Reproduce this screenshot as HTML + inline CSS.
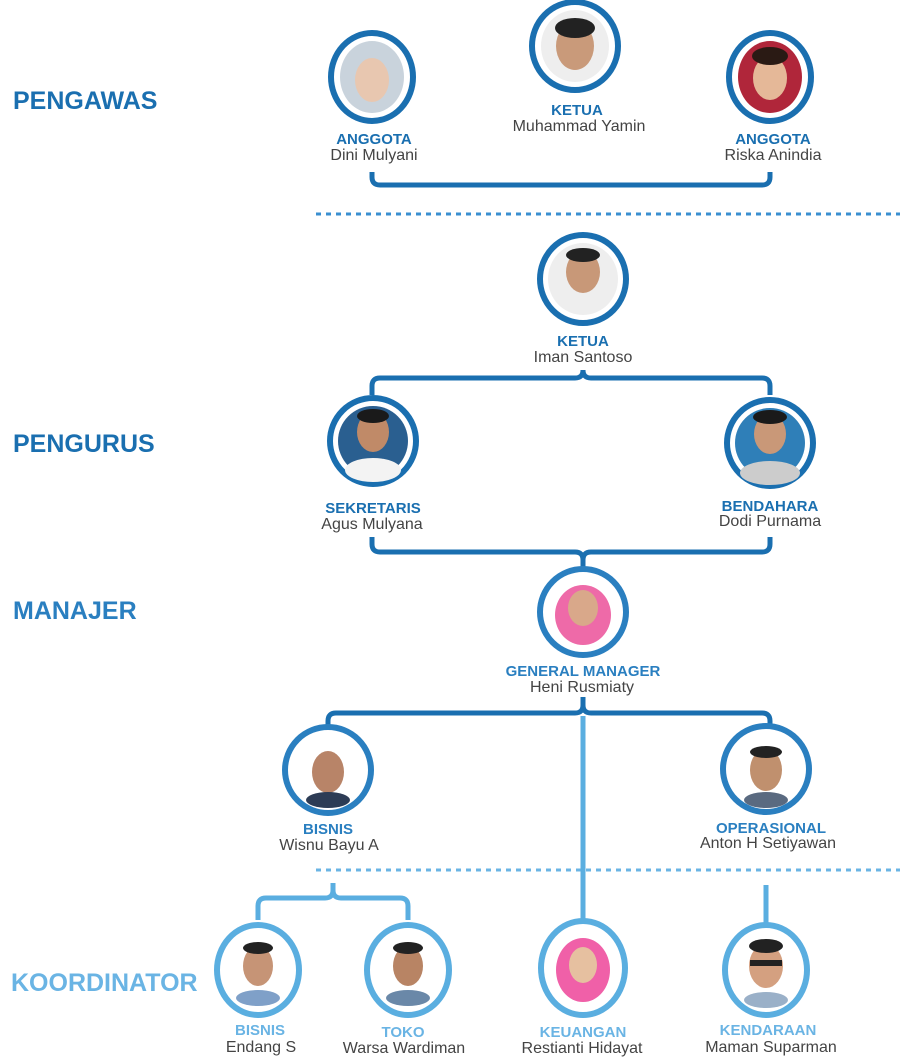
<!DOCTYPE html>
<html><head><meta charset="utf-8"><style>
html,body{margin:0;padding:0;background:#fff;}
svg{display:block}
.t{font-family:"Liberation Sans",sans-serif;font-weight:bold;text-anchor:middle;font-size:15px}
.n{font-family:"Liberation Sans",sans-serif;text-anchor:middle;font-size:16px;fill:#444}
.side{font-family:"Liberation Sans",sans-serif;font-weight:bold;font-size:25px}
</style></head><body>
<svg width="900" height="1059" viewBox="0 0 900 1059" xmlns="http://www.w3.org/2000/svg">
<text class="side" x="13" y="109" fill="#1a6fb0">PENGAWAS</text>
<text class="side" x="13" y="452" fill="#1a6fb0">PENGURUS</text>
<text class="side" x="13" y="619" fill="#2a7fc0">MANAJER</text>
<text class="side" x="11" y="991" fill="#6ab4e4">KOORDINATOR</text>

<line x1="316" y1="214" x2="900" y2="214" stroke="#3a8fd0" stroke-width="3" stroke-dasharray="5,5"/>
<line x1="316" y1="870" x2="900" y2="870" stroke="#6ab4e4" stroke-width="3" stroke-dasharray="5,5"/>

<g fill="none" stroke="#1a6fb0" stroke-width="5">
<path d="M372 172 V177 Q372 185 380 185 H762 Q770 185 770 177 V172"/>
<path d="M372 395 V386 Q372 378 380 378 H575 Q583 378 583 370 Q583 378 591 378 H762 Q770 378 770 386 V395"/>
<path d="M372 537 V544 Q372 552 380 552 H575 Q583 552 583 560 V568 M583 560 Q583 552 591 552 H762 Q770 552 770 544 V537"/>
<path d="M328 728 V721 Q328 713 336 713 H575 Q583 713 583 705 V697 M583 705 Q583 713 591 713 H762 Q770 713 770 721 V728"/>
</g>
<g fill="none" stroke="#5aaee0" stroke-width="5">
<line x1="583" y1="716" x2="583" y2="920"/>
<path d="M333 883 V890 Q333 898 325 898 H266 Q258 898 258 906 V920 M333 890 Q333 898 341 898 H400 Q408 898 408 906 V920"/>
<line x1="766" y1="885" x2="766" y2="928"/>
</g>

<g stroke-width="6">
<g stroke="#1a6fb0">
<ellipse cx="372" cy="77" rx="41" ry="44" fill="#fff"/>
<ellipse cx="575" cy="46" rx="43" ry="44" fill="#fff"/>
<ellipse cx="770" cy="77" rx="41" ry="44" fill="#fff"/>
<ellipse cx="583" cy="279" rx="43" ry="44" fill="#fff"/>
<ellipse cx="373" cy="441" rx="43" ry="43" fill="#fff"/>
<ellipse cx="770" cy="443" rx="43" ry="43" fill="#fff"/>
</g>
<g stroke="#2a7fc0">
<ellipse cx="583" cy="612" rx="43" ry="43" fill="#fff"/>
<ellipse cx="328" cy="770" rx="43" ry="43" fill="#fff"/>
<ellipse cx="766" cy="769" rx="43" ry="43" fill="#fff"/>
</g>
<g stroke="#5aaee0">
<ellipse cx="258" cy="970" rx="41" ry="45" fill="#fff"/>
<ellipse cx="408" cy="970" rx="41" ry="45" fill="#fff"/>
<ellipse cx="583" cy="968" rx="42" ry="47" fill="#fff"/>
<ellipse cx="766" cy="970" rx="41" ry="45" fill="#fff"/>
</g>
</g>
<g>
<ellipse cx="372" cy="77" rx="32" ry="36" fill="#c9d3dc"/><ellipse cx="372" cy="80" rx="17" ry="22" fill="#e8c7b0"/>
<ellipse cx="575" cy="46" rx="34" ry="36" fill="#eee"/><ellipse cx="575" cy="46" rx="19" ry="24" fill="#c99a7a"/><ellipse cx="575" cy="28" rx="20" ry="10" fill="#222"/>
<ellipse cx="770" cy="77" rx="32" ry="36" fill="#b0263a"/><ellipse cx="770" cy="78" rx="17" ry="22" fill="#e5b898"/><ellipse cx="770" cy="56" rx="18" ry="9" fill="#2a1a14"/>
<ellipse cx="583" cy="279" rx="35" ry="36" fill="#eee"/><ellipse cx="583" cy="272" rx="17" ry="21" fill="#c89878"/><ellipse cx="583" cy="255" rx="17" ry="7" fill="#222"/>
<ellipse cx="373" cy="441" rx="35" ry="35" fill="#2a5f90"/><ellipse cx="373" cy="470" rx="28" ry="12" fill="#f3f3f3"/><ellipse cx="373" cy="432" rx="16" ry="20" fill="#c08a68"/><ellipse cx="373" cy="416" rx="16" ry="7" fill="#1a1a1a"/>
<ellipse cx="770" cy="443" rx="35" ry="35" fill="#2f7fb8"/><ellipse cx="770" cy="473" rx="30" ry="12" fill="#ccc"/><ellipse cx="770" cy="434" rx="16" ry="20" fill="#c99878"/><ellipse cx="770" cy="417" rx="17" ry="7" fill="#1a1a1a"/>
<ellipse cx="583" cy="615" rx="28" ry="30" fill="#ee6aa8"/><ellipse cx="583" cy="608" rx="15" ry="18" fill="#d9a88a"/>
<ellipse cx="328" cy="772" rx="16" ry="21" fill="#b88468"/><ellipse cx="328" cy="800" rx="22" ry="8" fill="#2d3c55"/>
<ellipse cx="766" cy="770" rx="16" ry="21" fill="#c0906e"/><ellipse cx="766" cy="752" rx="16" ry="6" fill="#222"/><ellipse cx="766" cy="800" rx="22" ry="8" fill="#5a6a80"/>
<ellipse cx="258" cy="966" rx="15" ry="20" fill="#c69476"/><ellipse cx="258" cy="948" rx="15" ry="6" fill="#222"/><ellipse cx="258" cy="998" rx="22" ry="8" fill="#7fa0c8"/>
<ellipse cx="408" cy="966" rx="15" ry="20" fill="#b88464"/><ellipse cx="408" cy="948" rx="15" ry="6" fill="#222"/><ellipse cx="408" cy="998" rx="22" ry="8" fill="#6a88a8"/>
<ellipse cx="583" cy="970" rx="27" ry="32" fill="#f060a8"/><ellipse cx="583" cy="965" rx="14" ry="18" fill="#e6c0a0"/>
<ellipse cx="766" cy="966" rx="17" ry="22" fill="#d4a080"/><ellipse cx="766" cy="946" rx="17" ry="7" fill="#222"/><rect x="750" y="960" width="32" height="6" fill="#222"/><ellipse cx="766" cy="1000" rx="22" ry="8" fill="#9ab0c8"/>
</g>

<g class="t" fill="#1a6fb0">
<text x="374" y="144">ANGGOTA</text>
<text x="577" y="115">KETUA</text>
<text x="773" y="144">ANGGOTA</text>
<text x="583" y="346">KETUA</text>
<text x="373" y="513">SEKRETARIS</text>
<text x="770" y="511">BENDAHARA</text>
</g>
<g class="t" fill="#2a7fc0">
<text x="583" y="676">GENERAL MANAGER</text>
<text x="328" y="834">BISNIS</text>
<text x="771" y="833">OPERASIONAL</text>
</g>
<g class="t" fill="#6ab4e4">
<text x="260" y="1035">BISNIS</text>
<text x="403" y="1037">TOKO</text>
<text x="583" y="1037">KEUANGAN</text>
<text x="768" y="1035">KENDARAAN</text>
</g>
<g class="n">
<text x="374" y="160">Dini Mulyani</text>
<text x="579" y="131">Muhammad Yamin</text>
<text x="773" y="160">Riska Anindia</text>
<text x="583" y="362">Iman Santoso</text>
<text x="372" y="529">Agus Mulyana</text>
<text x="770" y="526">Dodi Purnama</text>
<text x="582" y="692">Heni Rusmiaty</text>
<text x="329" y="850">Wisnu Bayu A</text>
<text x="768" y="848">Anton H Setiyawan</text>
<text x="261" y="1052">Endang S</text>
<text x="404" y="1053">Warsa Wardiman</text>
<text x="582" y="1053">Restianti Hidayat</text>
<text x="771" y="1052">Maman Suparman</text>
</g>
</svg>
</body></html>
